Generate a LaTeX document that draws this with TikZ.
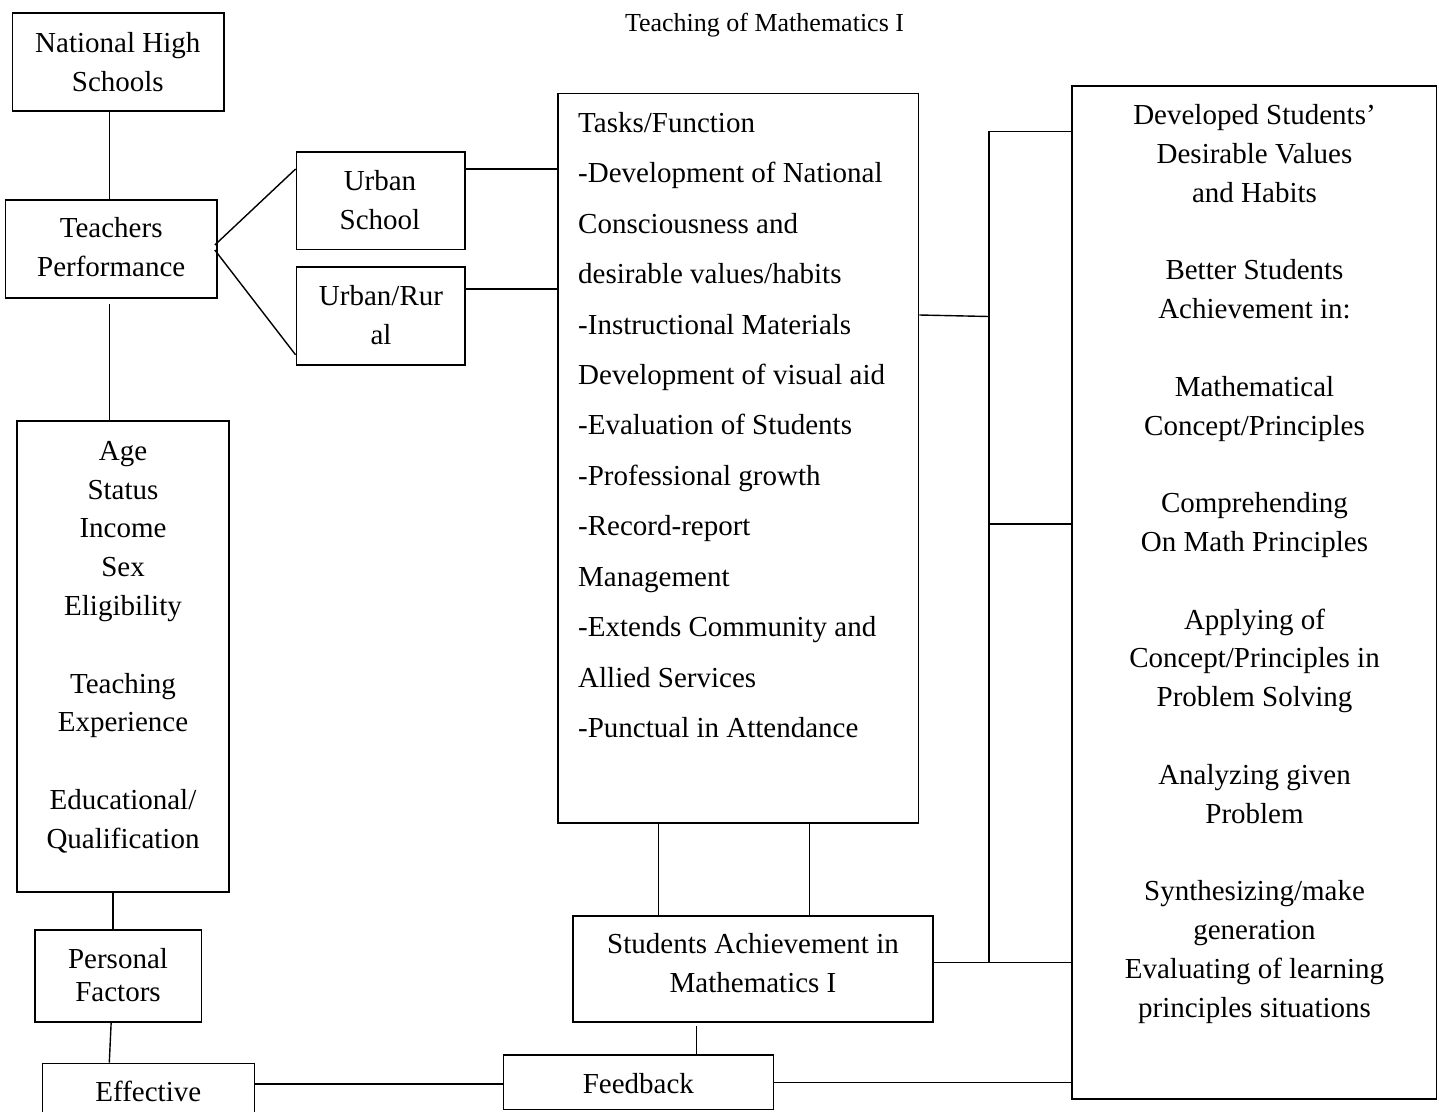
\documentclass[tikz,border=0pt]{standalone}
\usepackage{fontspec}
\setmainfont{Liberation Serif}
\newcommand{\fstrut}{\rule{0pt}{22pt}}
\begin{document}
\begin{tikzpicture}[x=1pt,y=-1pt,
  box/.style={draw,line width=1.6pt,rectangle,inner sep=0pt},
  conn/.style={line width=1.4pt},
  txt/.style={inner sep=0pt,anchor=north,align=center,font=\fontsize{29}{38.8}\selectfont},
  line/.style={inner sep=0pt,anchor=base,font=\fontsize{29}{38.8}\selectfont}]
\clip (0,0) rectangle (1439,1111);
\fill[white] (0,0) rectangle (1439,1111);

% title
\node[anchor=base,inner sep=0pt,font=\fontsize{26}{30}\selectfont] (title) at (764.5,31) {Teaching of Mathematics I};

% boxes
\node[box,minimum width=211.5pt,minimum height=98pt] (nhs) at (118.25,61.7) {};
\node[box,minimum width=211.6pt,minimum height=98pt] (tp) at (111.2,249) {};
\node[box,minimum width=168.6pt,minimum height=97.6pt] (us) at (380.7,200.5) {};
\node[box,minimum width=168.6pt,minimum height=98.3pt] (ur) at (380.7,315.85) {};
\node[box,minimum width=212.3pt,minimum height=471pt] (attr) at (122.85,656.2) {};
\node[box,minimum width=166.3pt,minimum height=91.7pt] (pers) at (118.15,975.85) {};
\node[box,minimum width=212pt,minimum height=96.7pt] (eff) at (148.3,1111.65) {};
\node[box,minimum width=270pt,minimum height=54.5pt] (fb) at (638.3,1082.25) {};
\node[box,minimum width=360pt,minimum height=106pt] (sa) at (752.9,968.7) {};
\node[box,minimum width=360.6pt,minimum height=729.4pt] (tasks) at (738.3,458) {};
\node[box,minimum width=364.5pt,minimum height=1013pt] (rb) at (1254.25,592.5) {};

% texts
\node[txt] (nhs-t) at (117.8,30) {\fstrut National High\\Schools};
\node[txt] (tp-t) at (111.2,215) {\fstrut Teachers\\Performance};
\node[txt] (us-t) at (380,168) {\fstrut Urban\\School};
\node[txt] (ur-t) at (381,283) {\fstrut Urban/Rur\\al};
\node[txt] (attr-t) at (123,438) {\fstrut Age\\Status\\Income\\Sex\\Eligibility\\[38.8pt]Teaching\\Experience\\[38.8pt]Educational/\\Qualification};
\node[txt,font=\fontsize{29}{33}\selectfont] (pers-t) at (118,946) {\fstrut Personal\\Factors};
\node[line] (eff-t) at (148.3,1101.7) {Effective};
\node[line] (fb-t) at (638.3,1093.3) {Feedback};
\node[txt,font=\fontsize{29}{39.4}\selectfont] (sa-t) at (753,931.3) {\fstrut Students Achievement in\\Mathematics I};
\node[txt,anchor=north west,align=left,font=\fontsize{29}{50.45}\selectfont] (tasks-t) at (578,110) {\fstrut Tasks/Function\\-Development of National\\Consciousness and\\desirable values/habits\\-Instructional Materials\\Development of visual aid\\-Evaluation of Students\\-Professional growth\\-Record-report\\Management\\-Extends Community and\\Allied Services\\-Punctual in Attendance};
\node[txt] (rb-t) at (1254.5,102.5) {\fstrut Developed Students'\\Desirable Values\\and Habits\\[38.8pt]Better Students\\Achievement in:\\[38.8pt]Mathematical\\Concept/Principles\\[38.8pt]Comprehending\\On Math Principles\\[38.8pt]Applying of\\Concept/Principles in\\Problem Solving\\[38.8pt]Analyzing given\\Problem\\[38.8pt]Synthesizing/make\\generation\\Evaluating of learning\\principles situations};

% connectors
\draw[conn] ([xshift=-1.6pt]tp.north |- nhs.south) -- ([xshift=-1.6pt]tp.north);
\draw[conn] ([xshift=-3pt,yshift=4pt]tp.east) -- ([yshift=31.5pt]us.west);
\draw[conn] ([xshift=-3pt,yshift=-1pt]tp.east) -- ([yshift=-39pt]ur.west);
\draw[conn] ([yshift=31.5pt]us.east) -- ([yshift=31.5pt]us.east -| tasks.west);
\draw[conn] ([yshift=26.85pt]ur.east) -- ([yshift=26.85pt]ur.east -| tasks.west);
\draw[conn] ([xshift=-1.9pt,yshift=-4.7pt]tp.south) -- ([xshift=-1.9pt]tp.south |- attr.north);
\draw[conn] ([xshift=-10pt]attr.south) -- ([xshift=-10pt]attr.south |- pers.north);
\draw[conn] ([xshift=-7pt]pers.south) -- ([xshift=-39pt]eff.north);
\draw[conn] ([yshift=27.6pt]eff.east) -- ([yshift=27.6pt]eff.east -| fb.west);
\draw[conn] (fb.east) -- (fb.east -| rb.west);
\draw[conn] ([xshift=-56.2pt,yshift=-3.3pt]sa.south) -- ([xshift=-56.2pt]sa.south |- fb.north);
\draw[conn] ([xshift=-79.7pt]tasks.south) -- ([xshift=-79.7pt]tasks.south |- sa.north);
\draw[conn] ([xshift=71.3pt]tasks.south) -- ([xshift=71.3pt]tasks.south |- sa.north);
\coordinate (bt) at (989,131.7);
\coordinate (bm) at (989,316.5);
\coordinate (bc) at (989,524);
\coordinate (bb) at (989,962.7);
\draw[conn] (rb.west |- bt) -- (bt) -- (bb);
\draw[conn] ([yshift=143pt]tasks.east) -- (bm);
\draw[conn] (bc) -- (rb.west |- bc);
\draw[conn] (sa.east |- bb) -- (rb.west |- bb);
\end{tikzpicture}
\end{document}
